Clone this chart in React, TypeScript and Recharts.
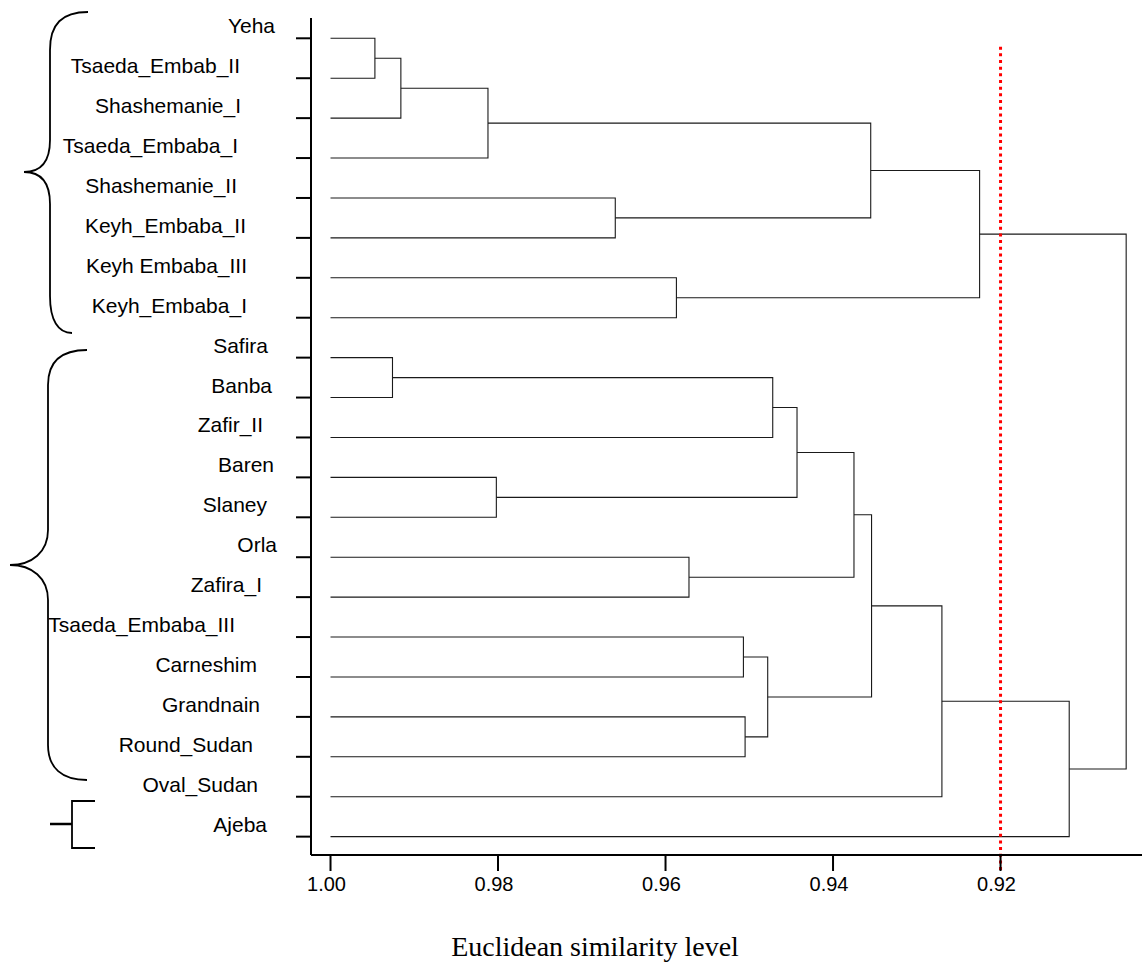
import { LineChart, Line, XAxis, YAxis, ReferenceLine, Customized } from "recharts";

// leaves, top to bottom
const leafNames = [
  "Yeha",
  "Tsaeda_Embab_II",
  "Shashemanie_I",
  "Tsaeda_Embaba_I",
  "Shashemanie_II",
  "Keyh_Embaba_II",
  "Keyh Embaba_III",
  "Keyh_Embaba_I",
  "Safira",
  "Banba",
  "Zafir_II",
  "Baren",
  "Slaney",
  "Orla",
  "Zafira_I",
  "Tsaeda_Embaba_III",
  "Carneshim",
  "Grandnain",
  "Round_Sudan",
  "Oval_Sudan",
  "Ajeba",
];

// linkage: merge k creates node 21 + k
const mergeLeft = [0, 8, 21, 23, 11, 4, 6, 13, 15, 17, 29, 22, 32, 33, 24, 34, 36, 35, 37, 38];
const mergeRight = [1, 9, 2, 3, 12, 5, 7, 14, 16, 18, 30, 10, 25, 28, 26, 31, 19, 27, 20, 39];
const mergeLevel = [
  0.9947, 0.9926, 0.9916, 0.9812, 0.9802, 0.966, 0.9587, 0.9572, 0.9507, 0.9505,
  0.9478, 0.9472, 0.9443, 0.9375, 0.9355, 0.9354, 0.927, 0.9225, 0.9118, 0.905,
];

const xTicks = [1.0, 0.98, 0.96, 0.94, 0.92];
const cutLevel = 0.92;

const W = 1142;
const H = 962;
const sans = "'Liberation Sans', Arial, sans-serif";
const serif = "'Liberation Serif', 'Times New Roman', serif";

// where each leaf label ends on the left (labels were placed by hand)
const labelRight: Record<string, number> = {
  Yeha: 275,
  Tsaeda_Embab_II: 240,
  Shashemanie_I: 241,
  Tsaeda_Embaba_I: 238,
  Shashemanie_II: 237,
  Keyh_Embaba_II: 246,
  "Keyh Embaba_III": 247,
  Keyh_Embaba_I: 247,
  Safira: 268,
  Banba: 272,
  Zafir_II: 263,
  Baren: 274,
  Slaney: 267,
  Orla: 277,
  Zafira_I: 262,
  Tsaeda_Embaba_III: 235,
  Carneshim: 257,
  Grandnain: 260,
  Round_Sudan: 253,
  Oval_Sudan: 258,
  Ajeba: 267,
};

function buildLinks() {
  const n = leafNames.length;
  const height: number[] = leafNames.map(() => 1);
  const pos: number[] = leafNames.map((_, i) => i);
  const links = mergeLevel.map((lvl, k) => {
    const a = mergeLeft[k];
    const b = mergeRight[k];
    height[n + k] = lvl;
    pos[n + k] = (pos[a] + pos[b]) / 2;
    return [
      { x: height[a], y: pos[a] },
      { x: lvl, y: pos[a] },
      { x: lvl, y: pos[b] },
      { x: height[b], y: pos[b] },
    ];
  });
  return links;
}

const links = buildLinks();

function LeafTick(props: any) {
  const { y, payload } = props;
  const name = leafNames[payload.value];
  if (!name) return null;
  return (
    <text
      x={labelRight[name]}
      y={y - 5}
      textAnchor="end"
      fontSize={21}
      fontFamily={sans}
      fill="#000"
    >
      {name}
    </text>
  );
}

function Decorations() {
  return (
    <g fill="none" stroke="#000">
      <path
        strokeWidth={1.8}
        d="M 88 12 C 62 12, 50 24, 50 50 L 50 140 C 50 160, 42 172, 24 172 C 42 172, 50 184, 50 204 L 50 296 C 50 320, 58 333, 72 333"
      />
      <path
        strokeWidth={1.8}
        d="M 87 350 C 60 350, 48 362, 48 385 L 48 530 C 48 552, 32 565, 10 565 C 32 565, 48 578, 48 600 L 48 745 C 48 768, 62 780, 87 780"
      />
      <path strokeWidth={2.5} d="M 50 824 L 72 824" />
      <path strokeWidth={1.8} d="M 95 801 L 72 801 L 72 848 L 95 848" />
      <text
        x={595}
        y={956}
        textAnchor="middle"
        fontSize={28}
        fontFamily={serif}
        fill="#000"
        stroke="none"
      >
        Euclidean similarity level
      </text>
    </g>
  );
}

export default function App() {
  return (
    <div style={{ position: "fixed", left: 0, top: 0, width: W, height: H, background: "#fff" }}>
      <LineChart width={W} height={H} margin={{ top: 18, right: 0, bottom: 0, left: 0 }}>
        <XAxis
          type="number"
          dataKey="x"
          domain={[0.90311, 1.00233]}
          reversed
          allowDataOverflow
          ticks={xTicks}
          tickFormatter={(v: number) => v.toFixed(2)}
          height={107}
          tickSize={16}
          tickMargin={6}
          axisLine={{ stroke: "#000", strokeWidth: 2 }}
          tickLine={{ stroke: "#000", strokeWidth: 2 }}
          tick={{ fontSize: 20, fontFamily: sans, fill: "#000", dx: -4 }}
        />
        <YAxis
          type="number"
          dataKey="y"
          domain={[-0.5085, 20.46]}
          reversed
          allowDataOverflow
          ticks={leafNames.map((_, i) => i)}
          interval={0}
          width={311}
          tickSize={15}
          axisLine={{ stroke: "#000", strokeWidth: 2 }}
          tickLine={{ stroke: "#000", strokeWidth: 2 }}
          tick={<LeafTick />}
        />
        {links.map((pts, k) => (
          <Line
            key={`link-${k}`}
            data={pts}
            dataKey="y"
            type="linear"
            stroke="#1a1a1a"
            strokeWidth={1.1}
            dot={false}
            activeDot={false}
            isAnimationActive={false}
          />
        ))}
        <ReferenceLine
          segment={[
            { x: cutLevel, y: 0.21 },
            { x: cutLevel, y: 20.91 },
          ]}
          stroke="#ff0000"
          strokeWidth={3}
          strokeDasharray="3 3.67"
          ifOverflow="visible"
        />
        <Customized component={Decorations} />
      </LineChart>
    </div>
  );
}
